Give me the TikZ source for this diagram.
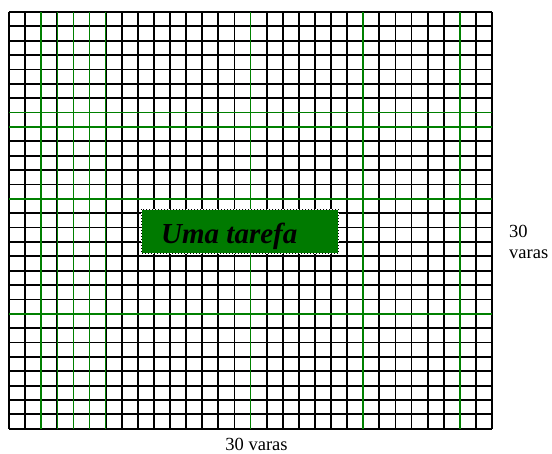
\documentclass[tikz,border=0pt]{standalone}
\usepackage{fontspec}
\setmainfont{Liberation Serif}
\definecolor{gridgreen}{RGB}{0,128,0}
\definecolor{boxgreen}{RGB}{0,122,0}
\begin{document}
\begin{tikzpicture}[x=1pt,y=-1pt,
  gridline/.style={black,line width=1.8pt},
  greenline/.style={gridgreen,line width=1.6pt},
  lbl/.style={inner sep=0pt,font=\fontsize{18.5}{21}\selectfont}]
\useasboundingbox (0,0) rectangle (552,453);
\def\xa{9}\def\dx{16.1}\def\ya{12}\def\dy{14.37}
% black grid
\foreach \i in {0,...,30} {
  \draw[gridline] ({\xa+\i*\dx},\ya) -- ({\xa+\i*\dx},{\ya+29*\dy});
}
\foreach \j in {0,...,29} {
  \draw[gridline] (\xa,{\ya+\j*\dy}) -- ({\xa+30*\dx},{\ya+\j*\dy});
}
% green lines
\foreach \i in {2,3,4,5,6,15,22,28} {
  \draw[greenline] ({\xa+\i*\dx},\ya) -- ({\xa+\i*\dx},{\ya+29*\dy});
}
\foreach \j in {7,8,13,21} {
  \draw[greenline] (\xa,{\ya+\j*\dy}) -- ({\xa+30*\dx},{\ya+\j*\dy});
}
% task box
\fill[boxgreen] (141,209.3) rectangle (338.7,253.3);
\draw[white,line width=1pt] (141,209.3) rectangle (338.7,253.3);
\draw[black,line width=1pt,dotted] (141,209.3) rectangle (338.7,253.3);
\node[inner sep=0pt,anchor=base west,font=\fontsize{29}{32}\selectfont\bfseries\itshape] (task) at (161,243) {Uma tarefa};
% labels
\node[lbl,anchor=base] (bottom) at (256.5,450) {30 varas};
\node[lbl,anchor=base west,align=left] (right) at (509,258.3) {30\\varas};
\end{tikzpicture}
\end{document}
